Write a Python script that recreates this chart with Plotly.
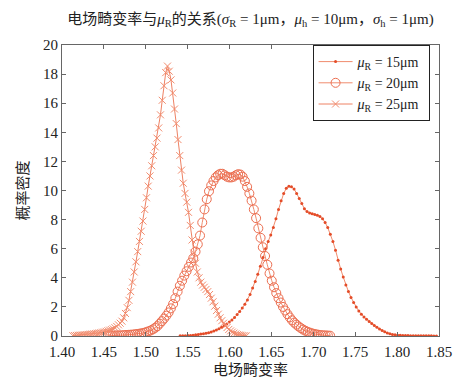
import numpy as np
import plotly.graph_objects as go

# ---- data (kernel density estimates, 100 points each) ----
x15_range = (1.541, 1.847)
y15 = [0.01, 0.01, 0.02, 0.03, 0.04, 0.06, 0.08, 0.10, 0.13, 0.16,
       0.19, 0.23, 0.28, 0.34, 0.41, 0.50, 0.60, 0.70, 0.82, 0.96,
       1.10, 1.27, 1.47, 1.68, 1.92, 2.18, 2.48, 2.85, 3.30, 3.75,
       4.25, 4.80, 5.40, 6.00, 6.50, 6.95, 7.45, 8.05, 8.70, 9.30,
       9.80, 10.15, 10.30, 10.25, 10.10, 9.80, 9.45, 9.10, 8.75, 8.55,
       8.45, 8.40, 8.35, 8.30, 8.22, 8.05, 7.80, 7.45, 7.00, 6.50,
       5.90, 5.20, 4.60, 4.05, 3.50, 3.05, 2.65, 2.30, 2.00, 1.72,
       1.50, 1.30, 1.15, 1.00, 0.86, 0.73, 0.60, 0.48, 0.38, 0.29,
       0.21, 0.15, 0.11, 0.08, 0.06, 0.05, 0.04, 0.035, 0.03, 0.025,
       0.02, 0.02, 0.015, 0.015, 0.01, 0.01, 0.01, 0.01, 0.005, 0.005]

x20_range = (1.455, 1.720)
y20 = [0.02, 0.02, 0.03, 0.03, 0.04, 0.04, 0.05, 0.06, 0.07, 0.08,
       0.09, 0.10, 0.12, 0.14, 0.16, 0.19, 0.22, 0.27, 0.32, 0.38,
       0.46, 0.56, 0.68, 0.85, 1.02, 1.20, 1.40, 1.62, 1.90, 2.20,
       2.60, 3.05, 3.45, 3.80, 4.15, 4.45, 4.75, 5.05, 5.35, 5.80,
       6.30, 6.90, 7.80, 8.70, 9.40, 9.95, 10.35, 10.65, 10.90, 11.05,
       11.15, 11.15, 11.05, 10.95, 10.90, 10.90, 10.95, 11.05, 11.12, 11.10,
       10.95, 10.65, 10.25, 9.80, 9.30, 8.70, 8.10, 7.40, 6.75, 6.10,
       5.50, 4.90, 4.30, 3.80, 3.35, 2.95, 2.60, 2.30, 2.00, 1.75,
       1.50, 1.28, 1.08, 0.92, 0.78, 0.65, 0.54, 0.44, 0.36, 0.29,
       0.23, 0.18, 0.14, 0.11, 0.08, 0.06, 0.05, 0.04, 0.03, 0.02]

x25_range = (1.413, 1.620)
y25 = [0.02, 0.03, 0.04, 0.05, 0.06, 0.07, 0.08, 0.09, 0.10, 0.11,
       0.13, 0.14, 0.16, 0.17, 0.19, 0.21, 0.23, 0.26, 0.28, 0.32,
       0.36, 0.40, 0.44, 0.49, 0.57, 0.66, 0.77, 0.88, 1.02, 1.25,
       1.55, 1.95, 2.45, 3.05, 3.70, 4.40, 5.10, 5.80, 6.50, 7.20,
       7.90, 8.70, 9.50, 10.30, 11.00, 11.70, 12.40, 13.00, 13.60, 14.30,
       15.20, 16.20, 17.20, 18.10, 18.55, 18.20, 17.60, 16.70, 15.60, 14.60,
       13.50, 12.40, 11.40, 10.50, 9.80, 9.20, 8.50, 7.60, 6.60, 5.70,
       5.00, 4.40, 4.00, 3.70, 3.50, 3.35, 3.20, 3.05, 2.85, 2.60,
       2.35, 2.05, 1.75, 1.50, 1.25, 1.05, 0.88, 0.72, 0.58, 0.45,
       0.35, 0.27, 0.20, 0.14, 0.10, 0.07, 0.05, 0.03, 0.02, 0.01]

x_ticks = [1.40, 1.45, 1.50, 1.55, 1.60, 1.65, 1.70, 1.75, 1.80, 1.85]
y_ticks = [0, 2, 4, 6, 8, 10, 12, 14, 16, 18, 20]
names = ["<i>μ</i><sub>R</sub> = 15μm&nbsp;",
         "<i>μ</i><sub>R</sub> = 20μm&nbsp;",
         "<i>μ</i><sub>R</sub> = 25μm&nbsp;"]

FONT = "Times New Roman, Liberation Serif, Noto Sans CJK SC, serif"

fig = go.Figure()
fig.add_trace(go.Scatter(
    x=np.linspace(*x15_range, len(y15)), y=y15, mode="lines+markers", name=names[0],
    line=dict(color="rgb(240,140,110)", width=1),
    marker=dict(symbol="circle", size=3, color="rgb(228,76,40)")))
fig.add_trace(go.Scatter(
    x=np.linspace(*x20_range, len(y20)), y=y20, mode="lines+markers", name=names[1],
    line=dict(color="rgb(240,140,110)", width=1),
    marker=dict(symbol="circle-open", size=9, color="rgb(236,110,80)", line=dict(width=1))))
fig.add_trace(go.Scatter(
    x=np.linspace(*x25_range, len(y25)), y=y25, mode="lines+markers", name=names[2],
    line=dict(color="rgb(238,130,100)", width=1),
    marker=dict(symbol="x-thin-open", size=7, color="rgb(242,140,110)",
                line=dict(width=1, color="rgb(242,140,110)"))))

axis_common = dict(
    showline=True, linecolor="#666666", linewidth=1, mirror="ticks",
    ticks="inside", ticklen=4, tickcolor="#666666", showgrid=False, zeroline=False,
    tickfont=dict(family=FONT, size=15, color="#222222"),
)

fig.update_layout(
    width=462, height=380,
    margin=dict(l=54, r=31, t=37, b=47),
    paper_bgcolor="white", plot_bgcolor="white",
    font=dict(family=FONT, size=15, color="#222222"),
    title=dict(
        text="电场畸变率与<i>μ</i><sub>R</sub>的关系(<i>σ</i><sub>R</sub> = 1μm，<i>μ</i><sub>h</sub> = 10μm，<i>σ</i><sub>h</sub> = 1μm)",
        x=0.5, xref="paper", xanchor="center", y=0.972, yanchor="middle",
        font=dict(family=FONT, size=15, color="#222222")),
    xaxis=dict(range=[1.40, 1.85], tickvals=x_ticks, ticktext=[f"{v:.2f}" for v in x_ticks],
               title=dict(text="电场畸变率", font=dict(family=FONT, size=15), standoff=5),
               ticklabelstandoff=2, **axis_common),
    yaxis=dict(range=[0, 20], tickvals=y_ticks,
               title=dict(text="概率密度", font=dict(family=FONT, size=15), standoff=10),
               **axis_common),
    legend=dict(x=0.975, y=1.0, xanchor="right", yanchor="top",
                bordercolor="#222222", borderwidth=1, bgcolor="white",
                font=dict(family=FONT, size=14), tracegroupgap=0, itemwidth=34),
    showlegend=True,
)

fig.write_html("out.html")
